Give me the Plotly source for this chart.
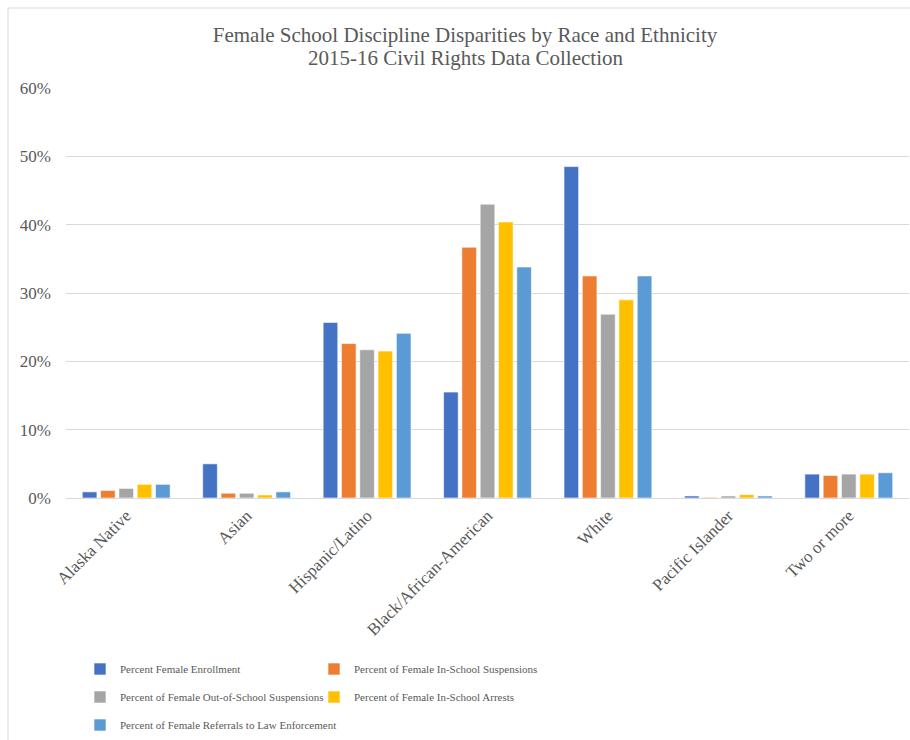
import plotly.graph_objects as go

# Race / ethnicity groups shown on the x axis
groups = ["Alaska Native", "Asian", "Hispanic/Latino", "Black/African-American",
          "White", "Pacific Islander", "Two or more"]

# Shares (fraction of female total) for each measure
enrollment = [0.009, 0.050, 0.257, 0.155, 0.485, 0.003, 0.035]
in_school_susp = [0.011, 0.007, 0.226, 0.367, 0.325, 0.001, 0.033]
out_school_susp = [0.014, 0.007, 0.217, 0.430, 0.269, 0.003, 0.035]
in_school_arrests = [0.020, 0.0045, 0.215, 0.404, 0.290, 0.005, 0.035]
law_referrals = [0.020, 0.009, 0.241, 0.338, 0.325, 0.003, 0.037]

series_names = [
    "Percent Female Enrollment",
    "Percent of Female In-School Suspensions",
    "Percent of Female Out-of-School Suspensions",
    "Percent of Female In-School Arrests",
    "Percent of Female Referrals to Law Enforcement",
]
series_values = [enrollment, in_school_susp, out_school_susp, in_school_arrests, law_referrals]
series_colors = ["#4472C4", "#ED7D31", "#A5A5A5", "#FFC000", "#5B9BD5"]

y_ticks = [0, 0.1, 0.2, 0.3, 0.4, 0.5, 0.6]

SERIF = "Liberation Serif, Times New Roman, serif"
TEXT_GRAY = "#595959"

# plot area in pixels: x 66..909, y 88..498
L, R, T, B = 66, 1, 88, 242
W, H = 910, 740
pw, ph = W - L - R, H - T - B

def px_x(x):
    return (x - L) / pw

def px_y(y):
    return (H - B - y) / ph

# one legend box per entry, laid out as a two-column grid below the axis
legend_ids = ["legend", "legend2", "legend3", "legend4", "legend5"]
legend_pos = [(80, 669), (314, 669), (80, 697), (314, 697), (80, 725)]

fig = go.Figure()
for name, vals, color, lg in zip(series_names, series_values, series_colors, legend_ids):
    fig.add_trace(go.Bar(
        x=groups, y=vals, name=name, legend=lg, showlegend=True,
        marker=dict(color=color, line=dict(color="rgba(255,255,255,0.6)", width=1)),
    ))

legend_layout = {}
for lg, (lx, ly) in zip(legend_ids, legend_pos):
    legend_layout[lg] = dict(
        x=px_x(lx), y=px_y(ly), xanchor="left", yanchor="middle",
        font=dict(family=SERIF, size=11, color=TEXT_GRAY),
        bgcolor="rgba(0,0,0,0)", itemwidth=30, itemclick=False,
    )

fig.update_layout(
    width=W, height=H,
    margin=dict(l=L, r=R, t=T, b=B),
    paper_bgcolor="white", plot_bgcolor="white",
    showlegend=True,
    barmode="group", bargap=0.24, bargroupgap=0.2,
    title=dict(
        text="Female School Discipline Disparities by Race and Ethnicity",
        x=px_x(465), xref="paper", xanchor="center",
        y=1 - 35 / H, yanchor="middle",
        font=dict(family=SERIF, size=21, color=TEXT_GRAY),
    ),
    annotations=[
        dict(text="2015-16 Civil Rights Data Collection",
             xref="paper", yref="paper", x=px_x(465), y=px_y(58),
             xanchor="center", yanchor="middle", showarrow=False,
             font=dict(family=SERIF, size=21, color=TEXT_GRAY)),
    ],
    yaxis=dict(
        range=[0, 0.6], tickvals=y_ticks, tickformat=".0%",
        showgrid=True, gridcolor="#D9D9D9", gridwidth=1,
        zeroline=False, showline=False, ticks="",
        tickfont=dict(family=SERIF, size=17, color=TEXT_GRAY),
        ticklabelstandoff=14,
    ),
    xaxis=dict(
        tickangle=-45, showline=True, linecolor="#D9D9D9", linewidth=1,
        ticks="", tickfont=dict(family=SERIF, size=17, color=TEXT_GRAY),
    ),
    shapes=[
        dict(type="rect", xref="paper", yref="paper",
             x0=px_x(8), x1=px_x(915), y0=px_y(760), y1=px_y(8),
             line=dict(color="#D9D9D9", width=1), layer="below"),
    ],
    **legend_layout,
)

fig.write_html("out.html")
